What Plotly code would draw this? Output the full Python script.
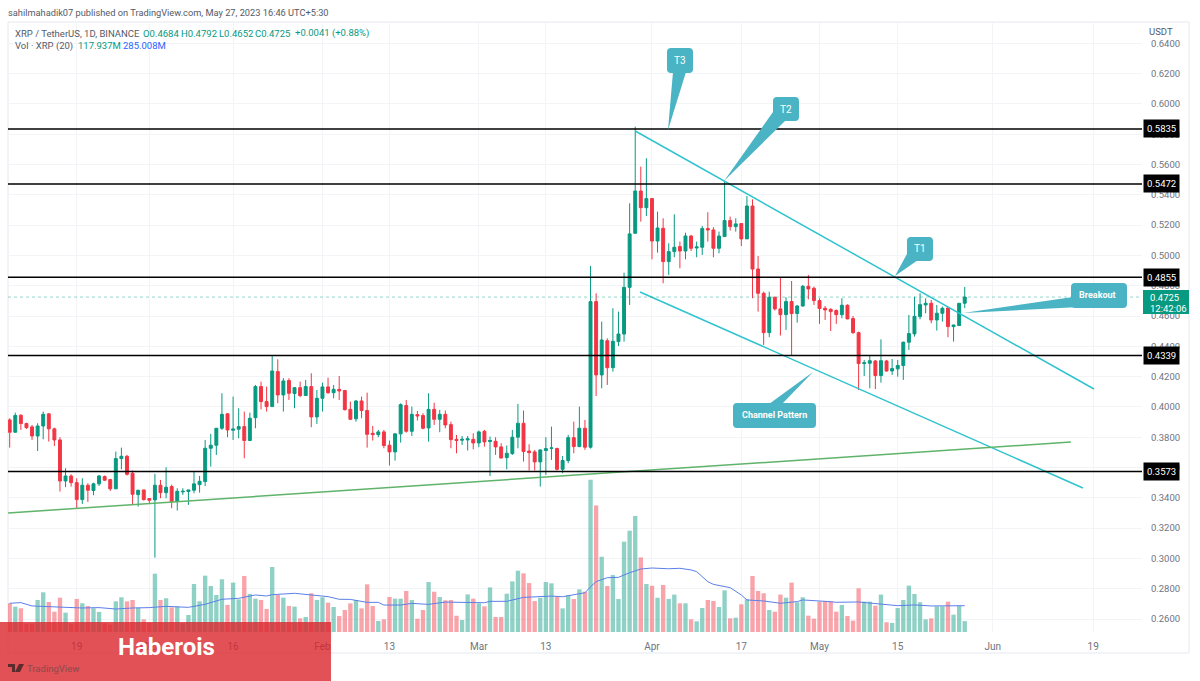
import pandas as pd
import plotly.graph_objects as go

W, H = 1200, 681
L, R, T, B = 8, 1142, 22, 632

first_day = "2022-12-07"
opens = [
 .3914,.3833,.3945,.3890,.3868,.3808,.3874,.3954,.3855,.3782,
 .3511,.3544,.3500,.3388,.3483,.3448,.3492,.3540,.3520,.3459,
 .3659,.3674,.3562,.3421,.3452,.3395,.3386,.3483,.3434,.3474,
 .3375,.3439,.3441,.3450,.3487,.3507,.3727,.3747,.3859,.3954,
 .3846,.3853,.3870,.3778,.3929,.4134,.4035,.4002,.4233,.4079,
 .4174,.4088,.4127,.4075,.4134,.3934,.4057,.4132,.4094,.4116,
 .4108,.3984,.3921,.4039,.3976,.3826,.3817,.3835,.3747,.3703,
 .3822,.4009,.3839,.3949,.3943,.3861,.3984,.3918,.3951,.3883,
 .3786,.3780,.3782,.3786,.3762,.3839,.3771,.3773,.3736,.3665,
 .3692,.3800,.3892,.3709,.3703,.3637,.3712,.3727,.3725,.3588,
 .3646,.3797,.3738,.3859,.3734,.4695,.4211,.4437,.4259,.4431,
 .4481,.4789,.5146,.5425,.5315,.5375,.5095,.5179,.4959,.5025,
 .5058,.5029,.5128,.5049,.5054,.5177,.5168,.5047,.5124,.5230,
 .5190,.5210,.5109,.5326,.4910,.4750,.4490,.4724,.4647,.4609,
 .4695,.4616,.4666,.4796,.4783,.4702,.4651,.4644,.4636,.4609,
 .4671,.4583,.4490,.4286,.4288,.4303,.4207,.4303,.4237,.4251,
 .4273,.4427,.4482,.4596,.4673,.4684,.4574,.4618,.4653,.4530,
 .4537,.4684]
highs = [
 .3925,.3962,.3951,.3896,.3881,.3892,.3969,.3958,.3863,.3800,
 .3595,.3555,.3529,.3529,.3496,.3500,.3551,.3547,.3525,.3705,
 .3731,.3683,.3580,.3452,.3452,.3397,.3558,.3518,.3601,.3487,
 .3463,.3463,.3452,.3573,.3544,.3782,.3822,.3859,.4090,.3958,
 .4068,.3991,.3969,.3962,.4145,.4167,.4134,.4336,.4314,.4190,
 .4189,.4130,.4167,.4178,.4222,.4112,.4160,.4193,.4145,.4204,
 .4112,.4035,.4046,.4068,.4094,.3874,.3848,.3848,.3778,.3826,
 .4024,.4046,.4002,.3973,.3958,.4090,.4028,.3980,.3976,.3903,
 .3815,.3808,.3808,.3826,.3844,.3848,.3804,.3800,.3760,.3745,
 .3848,.4020,.3976,.3753,.3716,.3720,.3800,.3870,.3731,.3676,
 .3815,.3903,.4002,.3914,.4930,.4750,.4563,.4453,.4651,.4629,
 .4886,.5344,.5850,.5586,.5641,.5375,.5289,.5245,.5080,.5271,
 .5091,.5150,.5135,.5091,.5194,.5285,.5186,.5157,.5487,.5256,
 .5245,.5210,.5392,.5370,.4996,.4761,.4761,.4728,.4856,.4724,
 .4831,.4673,.4805,.4871,.4794,.4717,.4666,.4651,.4644,.4717,
 .4677,.4600,.4497,.4310,.4339,.4310,.4446,.4310,.4316,.4310,
 .4431,.4607,.4728,.4750,.4717,.4706,.4673,.4662,.4658,.4541,
 .4684,.4792]
lows = [
 .3731,.3830,.3848,.3854,.3782,.3709,.3786,.3771,.3742,.3441,
 .3470,.3474,.3331,.3360,.3373,.3417,.3478,.3511,.3445,.3459,
 .3588,.3547,.3353,.3342,.3382,.3360,.3005,.3397,.3397,.3331,
 .3316,.3419,.3353,.3430,.3434,.3478,.3606,.3683,.3848,.3800,
 .3782,.3793,.3661,.3778,.3859,.3984,.3969,.4002,.4024,.3969,
 .4046,.3991,.4064,.4075,.3866,.3888,.3969,.4086,.4057,.4046,
 .3976,.3914,.3903,.3925,.3731,.3778,.3800,.3727,.3613,.3646,
 .3764,.3830,.3808,.3910,.3852,.3771,.3881,.3833,.3859,.3727,
 .3694,.3749,.3712,.3720,.3734,.3738,.3544,.3683,.3659,.3588,
 .3683,.3727,.3639,.3580,.3580,.3474,.3551,.3650,.3580,.3562,
 .3628,.3694,.3734,.3716,.3725,.4072,.4123,.4145,.4233,.4402,
 .4431,.4673,.5146,.5223,.5260,.4974,.5018,.4816,.4871,.4988,
 .4915,.4974,.5029,.4988,.5003,.5091,.4988,.5014,.5124,.5164,
 .5157,.5062,.5109,.4717,.4629,.4409,.4460,.4636,.4471,.4508,
 .4339,.4556,.4662,.4710,.4673,.4548,.4574,.4501,.4548,.4585,
 .4578,.4482,.4112,.4204,.4123,.4118,.4160,.4233,.4211,.4200,
 .4178,.4376,.4464,.4578,.4618,.4552,.4504,.4563,.4460,.4431,
 .4535,.4652]
closes = [
 .3833,.3943,.3890,.3863,.3808,.3874,.3951,.3855,.3782,.3511,
 .3544,.3500,.3388,.3483,.3450,.3492,.3544,.3516,.3459,.3659,
 .3674,.3555,.3423,.3450,.3388,.3384,.3483,.3434,.3470,.3375,
 .3443,.3443,.3452,.3492,.3509,.3727,.3747,.3859,.3951,.3848,
 .3854,.3870,.3778,.3925,.4134,.4035,.4002,.4237,.4079,.4171,
 .4090,.4127,.4075,.4134,.3934,.4057,.4132,.4094,.4116,.4105,
 .3982,.3918,.4039,.3976,.3819,.3817,.3835,.3745,.3703,.3822,
 .4015,.3839,.3951,.3940,.3859,.3984,.3918,.3951,.3881,.3784,
 .3778,.3786,.3789,.3762,.3835,.3769,.3778,.3736,.3663,.3694,
 .3800,.3892,.3705,.3698,.3637,.3716,.3725,.3729,.3588,.3646,
 .3797,.3738,.3859,.3734,.4695,.4211,.4442,.4259,.4433,.4481,
 .4789,.5142,.5425,.5315,.5375,.5095,.5181,.4959,.5025,.5054,
 .5029,.5128,.5047,.5056,.5177,.5168,.5047,.5128,.5230,.5190,
 .5208,.5109,.5326,.4910,.4750,.4490,.4724,.4647,.4609,.4695,
 .4616,.4666,.4796,.4779,.4702,.4649,.4640,.4629,.4609,.4671,
 .4581,.4490,.4286,.4292,.4305,.4207,.4305,.4237,.4253,.4273,
 .4427,.4484,.4598,.4675,.4684,.4574,.4618,.4651,.4530,.4541,
 .4684,.4725]
volumes_m = [
 311,275,257,90,90,347,430,325,220,372,
 210,90,358,311,282,257,217,95,80,332,
 376,332,347,264,137,100,632,347,365,267,
 275,95,184,520,332,610,498,401,571,293,
 535,354,607,412,361,347,249,704,401,372,
 282,275,148,163,419,347,376,318,271,173,
 238,310,346,256,516,281,119,137,379,361,
 361,444,346,144,238,541,436,379,343,346,
 176,130,407,361,310,278,483,162,162,415,
 548,664,635,530,335,371,541,527,379,256,
 397,357,462,436,1649,1371,815,498,617,357,
 978,1097,1256,808,520,501,371,509,358,405,
 311,311,137,116,260,347,336,271,451,148,
 155,300,354,607,444,419,238,220,405,372,
 535,322,376,177,145,329,336,332,220,293,
 173,123,473,329,329,285,405,105,98,260,
 347,502,412,322,137,148,278,278,329,188,
 282,118]
ma_days = [0,2,4,7,10,13,16,19,22,25,28,32,35,38,41,44,46,47,51,54,57,59,61,64,66,67,70,72,75,78,82,85,86,89,92,94,97,99,102,103,104,105,107,109,111,113,115,118,120,122,123,124,125,126,129,131,132,135,138,141,142,146,148,152,155,159,162,165,171]
ma_values_m = [311,318,282,275,264,260,264,249,260,264,278,267,300,354,365,401,390,404,419,401,383,354,353,321,321,292,292,310,299,324,317,317,332,332,375,382,389,382,418,425,490,545,588,592,642,682,693,685,690,672,654,600,545,516,480,401,347,336,311,329,347,332,322,325,311,285,293,282,285]

level_prices = [0.5835, 0.5472, 0.4855, 0.4339, 0.3573]
last_price = 0.4725
upper_channel_x = ["2023-03-29 00:00", "2023-06-19 03:36"]
upper_channel_y = [0.5821, 0.4118]
lower_channel_x = ["2023-03-29 20:38", "2023-06-17 04:00"]
lower_channel_y = [0.4758, 0.3465]
support_x = ["2022-12-06 17:00", "2023-06-15 00:00"]
support_y = [0.3300, 0.3768]
tick_dates = ["2022-12-19","2023-01-01","2023-01-16","2023-02-01","2023-02-13","2023-03-01",
              "2023-03-13","2023-04-01","2023-04-17","2023-05-01","2023-05-15","2023-06-01","2023-06-19"]
tick_labels = ["19","2023","16","Feb","13","Mar","13","Apr","17","May","15","Jun","19"]

days = pd.date_range(first_day, periods=len(opens), freq="D")
UP, DOWN = "#089981", "#F23645"
vol_colors = ["rgba(8,153,129,.45)" if c >= o else "rgba(242,54,69,.45)" for o, c in zip(opens, closes)]
FONT = "Roboto"
GREY = "#6f7480"
TEAL = "#4ab4c4"

def px(x, y):
    return x / W, 1 - y / H

def path(points):
    return "M " + " L ".join("%.5f,%.5f" % px(*p) for p in points) + " Z"

def callout(x0, y0, x1, y1, tail, r=4):
    P = lambda a, b: "%.5f,%.5f" % px(a, b)
    box = (f"M {P(x0+r,y0)} L {P(x1-r,y0)} Q {P(x1,y0)} {P(x1,y0+r)} L {P(x1,y1-r)} Q {P(x1,y1)} {P(x1-r,y1)} "
           f"L {P(x0+r,y1)} Q {P(x0,y1)} {P(x0,y1-r)} L {P(x0,y0+r)} Q {P(x0,y0)} {P(x0+r,y0)} Z")
    return [dict(type="path", xref="paper", yref="paper", path=box, fillcolor=TEAL, line_width=0),
            dict(type="path", xref="paper", yref="paper", path=path(tail), fillcolor=TEAL, line_width=0)]

fig = go.Figure()
fig.add_bar(x=days, y=volumes_m, marker=dict(color=vol_colors, line_width=0), width=0.78*86400000, yaxis="y")
fig.add_scatter(x=days[ma_days], y=ma_values_m, mode="lines", line=dict(color="#5b7fe8", width=1), yaxis="y")
fig.add_candlestick(x=days, open=opens, high=highs, low=lows, close=closes, yaxis="y2", whiskerwidth=0,
                    increasing=dict(line=dict(color=UP, width=1), fillcolor=UP),
                    decreasing=dict(line=dict(color=DOWN, width=1), fillcolor=DOWN))
fig.add_scatter(x=upper_channel_x, y=upper_channel_y, mode="lines", line=dict(color="#2fc3cf", width=1.5), yaxis="y2")
fig.add_scatter(x=lower_channel_x, y=lower_channel_y, mode="lines", line=dict(color="#2fc3cf", width=1.5), yaxis="y2")
fig.add_scatter(x=support_x, y=support_y, mode="lines", line=dict(color="#5fb36a", width=1.5), yaxis="y2")

shapes = []
# frame
shapes.append(dict(type="rect", xref="paper", yref="paper", x0=L/W, x1=1189/W, y0=px(0,653)[1], y1=px(0,T)[1],
                   line=dict(color="#e6e8ee", width=1), layer="below"))
shapes.append(dict(type="line", xref="paper", yref="y2", x0=L/W, x1=R/W, y0=last_price, y1=last_price,
                   line=dict(color="rgba(8,153,129,.6)", width=0.7, dash="dot"), layer="above"))
for lv in level_prices:
    shapes.append(dict(type="line", xref="paper", yref="y2", x0=L/W, x1=R/W, y0=lv, y1=lv,
                       line=dict(color="#000000", width=1.5)))
shapes += callout(667, 48, 693, 73, [(673,72),(686,72),(668,130)])
shapes += callout(773, 97, 799, 121, [(773,112),(786,120),(724,181)])
shapes += callout(907, 237, 933, 261, [(908,252),(918,260),(895,276)])
shapes += callout(1071, 283, 1127, 308, [(1073,297),(1080,307),(963,313)])
shapes += callout(733, 403, 816, 428, [(769,404),(782,404),(813,372)])
# current price box
x0, y0 = px(1143, 290); x1, y1 = px(1189, 314)
shapes.append(dict(type="rect", xref="paper", yref="paper", x0=x0, x1=x1, y0=y1, y1=y0, fillcolor=UP, line_width=0))
# Haberois band
x0, y0 = px(0, 622); x1, y1 = px(331, 681)
shapes.append(dict(type="rect", xref="paper", yref="paper", x0=x0, x1=x1, y0=y1, y1=y0, fillcolor="rgba(217,38,44,.8)", line_width=0))
shapes.append(dict(type="path", xref="paper", yref="paper", fillcolor="#5a2c2e", line_width=0,
                   path=path([(8,664),(15,664),(15,672),(12,672),(12,667),(8,667)])))
shapes.append(dict(type="path", xref="paper", yref="paper", fillcolor="#5a2c2e", line_width=0,
                   path=path([(19,664),(24,664),(20,672),(15,672)])))

ann = []
def text(x, y, s, size=9.5, color=GREY, anchor="left", weight=None):
    a, b = px(x, y)
    t = f"<b>{s}</b>" if weight else s
    ann.append(dict(xref="paper", yref="paper", x=a, y=b, text=t, showarrow=False, xanchor=anchor, yanchor="middle",
                    font=dict(family=FONT, size=size, color=color), borderpad=0))

text(7, 12, "sahilmahadik07 published on TradingView.com, May 27, 2023 16:46 UTC+5:30", 9.25, "#555a66")
text(14, 33, "XRP / TetherUS, 1D, BINANCE", 9.5, "#555a66")
text(141.5, 33, "O0.4684", 9.5, UP)
text(180, 33, "H0.4792", 9.5, UP)
text(218, 33, "L0.4652", 9.5, UP)
text(254, 33, "C0.4725", 9.5, UP)
text(294, 33, "+0.0041 (+0.88%)", 9.5, UP)
text(14, 46, "Vol · XRP (20)", 9.5, "#555a66")
text(77, 46, "117.937M", 9.5, UP)
text(122, 46, "285.008M", 9.5, "#2962ff")
text(1161, 31, "USDT", 9.5, "#555a66", "center")
text(679.5, 60.5, "T3", 10, "#ffffff", "center")
text(785.5, 109, "T2", 10, "#ffffff", "center")
text(920, 248.5, "T1", 10, "#ffffff", "center")
text(1097, 295, "Breakout", 9, "#ffffff", "center", True)
text(774.5, 415, "Channel Pattern", 9, "#ffffff", "center", True)
text(166.5, 647, "Haberois", 24, "#ffffff", "center", True)
text(26, 668, "TradingView", 9.5, "#8a4a4c")
text(1149, 297, "0.4725", 9.5, "#ffffff")
text(1149, 308, "12:42:06", 9.5, "#ffffff")
for lv in level_prices:
    ann.append(dict(xref="paper", yref="y2", x=1143/W, y=lv, text=f"{lv:.4f}", showarrow=False, xanchor="left",
                    yanchor="middle", bgcolor="#000000", borderpad=3, font=dict(family=FONT, size=9.5, color="#ffffff")))

fig.update_layout(
    width=W, height=H, autosize=False, margin=dict(l=0, r=0, t=0, b=0), showlegend=False,
    paper_bgcolor="#ffffff", plot_bgcolor="#ffffff", shapes=shapes, annotations=ann, barmode="overlay", boxgap=0.25,
    xaxis=dict(type="date", domain=[L/W, R/W], range=["2022-12-06 16:42", "2023-06-27 17:46"], rangeslider=dict(visible=False),
               tickvals=tick_dates, ticktext=tick_labels, tickfont=dict(family=FONT, size=10, color=GREY),
               ticks="outside", ticklen=5, tickcolor="rgba(0,0,0,0)", showgrid=True, gridcolor="#f3f4f7", gridwidth=1,
               showline=False, zeroline=False),
    yaxis=dict(domain=[(H-B)/H, (H-T)/H], range=[0, 6606], visible=False, showgrid=False, zeroline=False),
    yaxis2=dict(domain=[(H-B)/H, (H-T)/H], range=[0.25142, 0.65406], overlaying="y", side="right", anchor="x",
                tickmode="linear", tick0=0.26, dtick=0.02, tickformat=".4f", tickfont=dict(family=FONT, size=9.5, color=GREY),
                ticks="outside", ticklen=6, tickcolor="rgba(0,0,0,0)", showgrid=True, gridcolor="#f3f4f7", gridwidth=1,
                showline=False, zeroline=False),
)
fig.write_html("out.html", post_script="document.body.style.margin='0';", config=dict(displayModeBar=False))
